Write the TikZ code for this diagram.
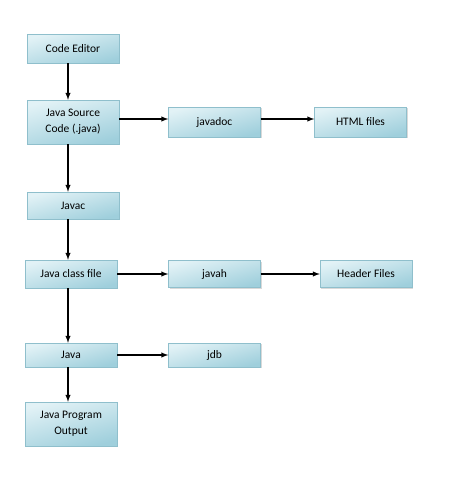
\documentclass[tikz,border=0pt]{standalone}
\usepackage{fontspec}
\setmainfont{Carlito}
\usetikzlibrary{shadows}

\definecolor{boxtop}{HTML}{E2F2F6}
\definecolor{boxbottom}{HTML}{9FCFDC}
\definecolor{boxline}{HTML}{8FBFCC}

\tikzset{
  stepbox/.style={draw=boxline, top color=boxtop, bottom color=boxbottom,
    shading angle=15, drop shadow={shadow xshift=1.2pt, shadow yshift=-1.2pt, opacity=0.3},
    minimum width=92, minimum height=29, align=center, font=\fontsize{11.5}{16}\selectfont},
  flow/.style={->, >=latex, black, line width=1.4pt}
}

\begin{document}
\begin{tikzpicture}[x=1pt,y=1pt,yscale=-1,xscale=1]
\useasboundingbox (0,0) rectangle (474,483);

% main column
\draw (73, 48.5) node[stepbox] (editor) {Code Editor};
\draw (73, 122) node[stepbox, minimum height=44] (source) {Java Source\\Code (.java)};
\draw (73, 205.5) node[stepbox, minimum height=27] (javac) {Javac};
\draw (71, 274) node[stepbox, minimum height=28] (classfile) {Java class file};
\draw (71, 355) node[stepbox, minimum height=24] (java) {Java};
\draw (71, 424) node[stepbox, minimum height=44] (output) {Java Program\\Output};

% side boxes
\draw (214.5, 122) node[stepbox, minimum height=30] (javadoc) {javadoc};
\draw (360.5, 122) node[stepbox, minimum height=30] (html) {HTML files};
\draw (214.5, 274) node[stepbox, minimum height=27] (javah) {javah};
\draw (366, 274) node[stepbox, minimum height=27] (header) {Header Files};
\draw (214.5, 355) node[stepbox, minimum height=24] (jdb) {jdb};

% down arrows
\draw [flow] ([xshift=-5]editor.south) -- ([xshift=-5]source.north);
\draw [flow] ([xshift=-5]source.south) -- ([xshift=-5]javac.north);
\draw [flow] ([xshift=-5]javac.south) -- ([xshift=-3]classfile.north);
\draw [flow] ([xshift=-3]classfile.south) -- ([xshift=-3]java.north);
\draw [flow] ([xshift=-3]java.south) -- ([xshift=-3]output.north);

% side arrows
\draw [flow] ([yshift=-3]source.east) -- ([yshift=-3]javadoc.west);
\draw [flow] ([yshift=-3]javadoc.east) -- ([yshift=-3]html.west);
\draw [flow] (classfile.east) -- (javah.west);
\draw [flow] (javah.east) -- (header.west);
\draw [flow] (java.east) -- (jdb.west);

\end{tikzpicture}
\end{document}
